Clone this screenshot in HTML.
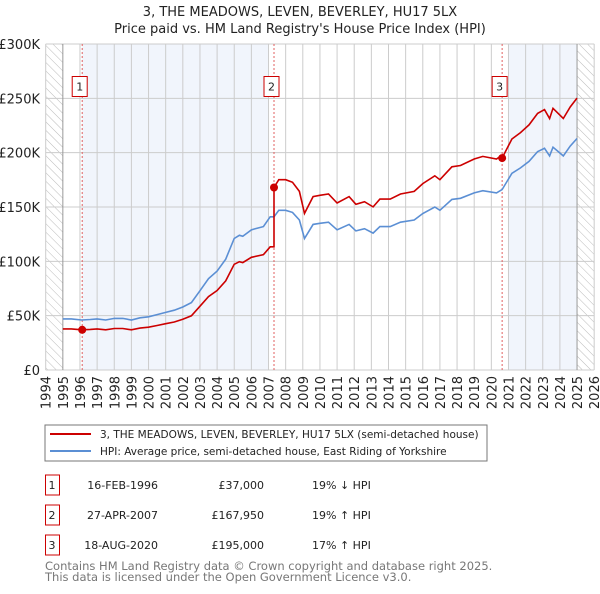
<!DOCTYPE html>
<html><head><meta charset="utf-8"><style>
body{margin:0;background:#fff;font-family:"DejaVu Sans","Liberation Sans",sans-serif}
svg text{font-family:"DejaVu Sans","Liberation Sans",sans-serif}
</style></head><body>
<svg id="c" width="600" height="590" xmlns="http://www.w3.org/2000/svg">
<defs><pattern id="hatch" width="6" height="6" patternUnits="userSpaceOnUse" patternTransform="rotate(-45)"><line x1="0" y1="0" x2="0" y2="6" stroke="#bbb" stroke-width="1"/></pattern></defs>
<text x="300" y="16" text-anchor="middle" font-size="13" fill="#222">3, THE MEADOWS, LEVEN, BEVERLEY, HU17 5LX</text>
<text x="300" y="33" text-anchor="middle" font-size="13" fill="#222">Price paid vs. HM Land Registry's House Price Index (HPI)</text>
<g id="plot"></g>
<rect x="45" y="425" width="442" height="36" fill="#fff" stroke="#777"/>
<line x1="50" y1="434" x2="91" y2="434" stroke="#cc0000" stroke-width="2"/>
<text x="100" y="438" font-size="10.5" fill="#222">3, THE MEADOWS, LEVEN, BEVERLEY, HU17 5LX (semi-detached house)</text>
<line x1="50" y1="451" x2="91" y2="451" stroke="#5b8fd4" stroke-width="2"/>
<text x="100" y="455" font-size="10.5" fill="#222">HPI: Average price, semi-detached house, East Riding of Yorkshire</text>
<g id="table" font-size="11" fill="#222"></g>
<text x="45" y="570" font-size="11.5" fill="#777">Contains HM Land Registry data © Crown copyright and database right 2025.</text>
<text x="45" y="581" font-size="11.5" fill="#777">This data is licensed under the Open Government Licence v3.0.</text>
</svg>
<script>
const hpiYears=[1995.0,1995.5,1996.1,1996.6,1997.0,1997.5,1998.0,1998.5,1999.0,1999.5,2000.0,2000.5,2001.0,2001.5,2002.0,2002.5,2003.0,2003.5,2004.0,2004.5,2005.0,2005.3,2005.5,2006.0,2006.7,2007.1,2007.32,2007.6,2008.0,2008.4,2008.8,2009.1,2009.6,2010.0,2010.5,2011.0,2011.7,2012.1,2012.6,2013.1,2013.5,2014.1,2014.7,2015.5,2016.0,2016.7,2017.0,2017.7,2018.2,2019.0,2019.5,2020.3,2020.63,2021.2,2021.7,2022.2,2022.7,2023.1,2023.4,2023.6,2024.2,2024.6,2025.0];
const hpiValues=[47,47,46,46.5,47,46,47.5,47.5,46,48,49,51,53,55,58,62,73,84,91,102,121,124,123,129,132,141,141,147,147,145,138,121,134,135,136,129,134,128,130,126,132,132,136,138,144,150,147,157,158,163,165,163,166,181,186,192,201,204,197,205,197,206,213];
const saleDates=[1996.13,2007.32,2020.63];
const salePrices=[37,167.95,195];
const saleLabels=["1","2","3"];
const saleDateText=["16-FEB-1996","27-APR-2007","18-AUG-2020"];
const salePriceText=["£37,000","£167,950","£195,000"];
const saleDiffText=["19% ↓ HPI","19% ↑ HPI","17% ↑ HPI"];
const yTicks=[0,50,100,150,200,250,300];
const yTickLabels=["£0","£50K","£100K","£150K","£200K","£250K","£300K"];
const xTicks=[1994,1995,1996,1997,1998,1999,2000,2001,2002,2003,2004,2005,2006,2007,2008,2009,2010,2011,2012,2013,2014,2015,2016,2017,2018,2019,2020,2021,2022,2023,2024,2025,2026];

const NS="http://www.w3.org/2000/svg";
const X=y=>45.7+(y-1994)*17.14;
const Y=v=>370-v*326/300;
const plot=document.getElementById('plot');
function mk(tag,attrs,parent){const e=document.createElementNS(NS,tag);for(const k in attrs)e.setAttribute(k,attrs[k]);(parent||plot).appendChild(e);return e;}
let e=mk('rect',{x:X(saleDates[0]),y:Y(300),width:X(2007)-X(saleDates[0]),height:Y(0)-Y(300),fill:'#eef3fb',opacity:0.8});


e=mk('rect',{x:X(2021),y:Y(300),width:X(2025)-X(2021),height:Y(0)-Y(300),fill:'#eef3fb',opacity:0.8});


e=mk('rect',{x:X(1994),y:Y(300),width:X(1995)-X(1994),height:Y(0)-Y(300),fill:'url(#hatch)'});


e=mk('rect',{x:X(2025),y:Y(300),width:X(2026)-X(2025),height:Y(0)-Y(300),fill:'url(#hatch)'});


yTicks.forEach((t,i)=>{
 let g=mk('line',{x1:X(1994),x2:X(2026),y1:Y(t),y2:Y(t),stroke:'#ccc'});
 
 
 let l=mk('text',{x:40,y:Y(t)+5,'text-anchor':'end','font-size':13,fill:'#222'});l.textContent=yTickLabels[i];
 
 
});
xTicks.forEach(t=>{
 let g=mk('line',{x1:X(t),x2:X(t),y1:Y(300),y2:Y(0),stroke:(t==1995||t==2025)?'#999':'#ccc'});
 
 
 let l=mk('text',{x:0,y:0,'text-anchor':'end','font-size':13,fill:'#222',transform:`translate(${X(t)+5},376) rotate(-90)`});l.textContent=t;
 
 
});
function hpiAt(t){for(let i=0;i<hpiYears.length-1;i++){if(t<=hpiYears[i+1]){const f=(t-hpiYears[i])/(hpiYears[i+1]-hpiYears[i]);return hpiValues[i]+f*(hpiValues[i+1]-hpiValues[i]);}}return hpiValues[hpiValues.length-1];}
saleDates.forEach((d,i)=>{
 let l=mk('line',{x1:X(d),x2:X(d),y1:Y(300),y2:Y(0),stroke:'#e06060','stroke-dasharray':'2,2'});
 
 
 let b=mk('rect',{x:X(d)-10,y:76.5,width:15,height:20,fill:'#fff',stroke:'#cc0000'});
 
 
 let t=mk('text',{x:X(d)-2.5,y:90.5,'text-anchor':'middle','font-size':11,fill:'#222'});t.textContent=saleLabels[i];
 
 
});
let hp=hpiYears.map((y,i)=>X(y).toFixed(1)+','+Y(hpiValues[i]).toFixed(1)).join(' ');
e=mk('polyline',{points:hp,fill:'none',stroke:'#5b8fd4','stroke-width':1.6});


let pts=[];
hpiYears.forEach((y,i)=>{
 let k=-1;for(let j=0;j<saleDates.length;j++)if(y>=saleDates[j]-1e-6)k=j;
 if(k<0)k=0;
 if(i>0){const prev=hpiYears[i-1];saleDates.forEach((d,j)=>{if(d>prev&&d<y){if(j>0)pts.push([d,salePrices[j-1]*hpiAt(d)/hpiAt(saleDates[j-1])]);pts.push([d,salePrices[j]]);}});}
 if(Math.abs(y-saleDates[k])<1e-6&&k>0)pts.push([y,salePrices[k-1]*hpiAt(y)/hpiAt(saleDates[k-1])]);
 pts.push([y,salePrices[k]*hpiValues[i]/hpiAt(saleDates[k])]);
});
e=mk('polyline',{points:pts.map(p=>X(p[0]).toFixed(1)+','+Y(p[1]).toFixed(1)).join(' '),fill:'none',stroke:'#cc0000','stroke-width':1.6});


saleDates.forEach((d,i)=>{
 let c=mk('circle',{cx:X(d),cy:Y(salePrices[i]),r:4,fill:'#cc0000'});
 
 
});
const tb=document.getElementById('table');
saleDates.forEach((d,i)=>{
 const y=485+i*30;
 let b=mk('rect',{x:45.5,y:y-10,width:14,height:20,fill:'#fff',stroke:'#cc0000'},tb);
 
 
 const cols=[[52,saleLabels[i],'middle'],[158,saleDateText[i],'end'],[264,salePriceText[i],'end'],[312,saleDiffText[i],'start']];
 cols.forEach((c,j)=>{let t=mk('text',{x:c[0],y:y+4,'text-anchor':c[2]},tb);t.textContent=c[1];
  
  });
});
</script>
</body></html>
